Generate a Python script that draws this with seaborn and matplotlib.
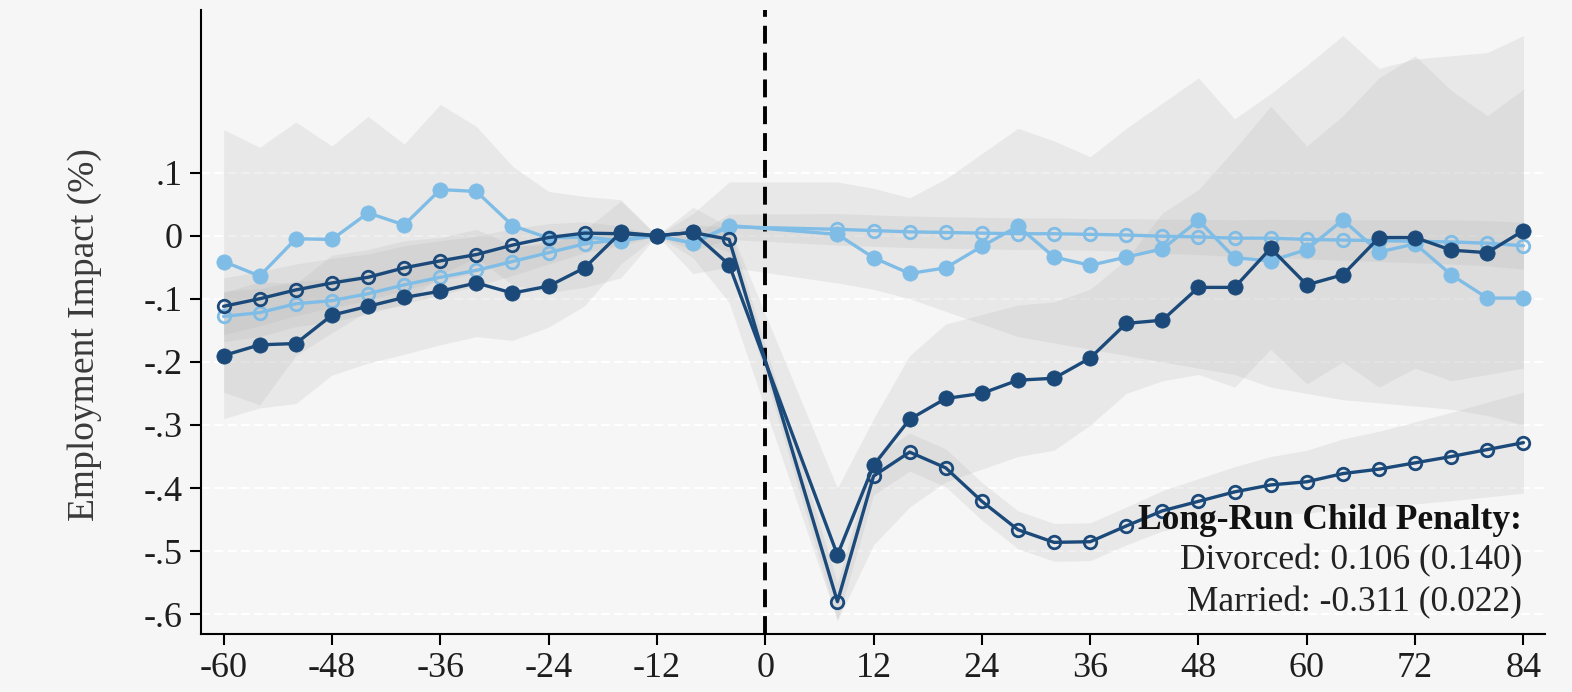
import numpy as np
import pandas as pd
import matplotlib
matplotlib.use("Agg")
import matplotlib.pyplot as plt
import seaborn as sns

# Event time (months relative to birth); 0 and 4 are not estimated
event_time = [-60, -56, -52, -48, -44, -40, -36, -32, -28, -24, -20, -16, -12, -8, -4,
              8, 12, 16, 20, 24, 28, 32, 36, 40, 44, 48, 52, 56, 60, 64, 68, 72, 76, 80, 84]

# Point estimates
women_divorced = [-0.190, -0.173, -0.171, -0.126, -0.112, -0.098, -0.088, -0.075, -0.091, -0.080,
                  -0.051, 0.005, 0.0, 0.005, -0.046,
                  -0.506, -0.364, -0.291, -0.258, -0.250, -0.229, -0.226, -0.194, -0.139, -0.134,
                  -0.082, -0.082, -0.020, -0.078, -0.062, -0.003, -0.003, -0.023, -0.027, 0.008]
women_married = [-0.112, -0.100, -0.086, -0.075, -0.066, -0.051, -0.040, -0.030, -0.015, -0.003,
                 0.004, 0.003, 0.0, 0.005, -0.006,
                 -0.580, -0.381, -0.343, -0.368, -0.421, -0.466, -0.486, -0.485, -0.460, -0.436,
                 -0.421, -0.406, -0.395, -0.390, -0.377, -0.370, -0.360, -0.350, -0.339, -0.328]
men_divorced = [-0.041, -0.064, -0.005, -0.006, 0.036, 0.017, 0.073, 0.070, 0.016, -0.004,
                -0.002, -0.008, 0.0, -0.012, 0.016,
                0.002, -0.035, -0.060, -0.051, -0.017, 0.015, -0.034, -0.047, -0.034, -0.021,
                0.024, -0.035, -0.040, -0.022, 0.025, -0.026, -0.013, -0.062, -0.099, -0.099]
men_married = [-0.128, -0.122, -0.108, -0.103, -0.092, -0.078, -0.066, -0.055, -0.041, -0.027,
               -0.013, -0.006, 0.0, -0.012, 0.014,
               0.010, 0.008, 0.006, 0.005, 0.004, 0.003, 0.003, 0.002, 0.001, -0.001,
               -0.002, -0.004, -0.004, -0.006, -0.007, -0.008, -0.009, -0.010, -0.012, -0.016]

# 95% confidence bounds, divorced
women_divorced_lo = [-0.290, -0.273, -0.266, -0.221, -0.202, -0.188, -0.173, -0.160, -0.166, -0.145,
                     -0.111, -0.045, 0.0, -0.035, -0.106,
                     -0.610, -0.490, -0.430, -0.390, -0.370, -0.350, -0.340, -0.300, -0.250, -0.230,
                     -0.220, -0.240, -0.180, -0.235, -0.200, -0.240, -0.210, -0.230, -0.220, -0.210]
women_divorced_hi = [-0.090, -0.073, -0.076, -0.031, -0.022, -0.008, -0.003, 0.010, -0.016, -0.015,
                     0.009, 0.055, 0.0, 0.045, 0.014,
                     -0.400, -0.290, -0.190, -0.140, -0.125, -0.110, -0.105, -0.085, -0.038, 0.036,
                     0.073, 0.137, 0.205, 0.142, 0.190, 0.250, 0.285, 0.230, 0.190, 0.232]
men_divorced_lo = [-0.248, -0.268, -0.190, -0.154, -0.119, -0.111, -0.062, -0.035, -0.078, -0.090,
                   -0.082, -0.067, 0.0, -0.060, -0.050,
                   -0.075, -0.085, -0.100, -0.120, -0.140, -0.160, -0.170, -0.180, -0.190, -0.200,
                   -0.210, -0.220, -0.240, -0.250, -0.260, -0.265, -0.270, -0.275, -0.285, -0.300]
men_divorced_hi = [0.168, 0.140, 0.180, 0.142, 0.189, 0.145, 0.208, 0.173, 0.110, 0.070,
                   0.062, 0.057, 0.0, 0.035, 0.085,
                   0.085, 0.075, 0.060, 0.090, 0.130, 0.170, 0.150, 0.125, 0.170, 0.210,
                   0.250, 0.185, 0.225, 0.270, 0.317, 0.265, 0.280, 0.285, 0.290, 0.317]

# 95% confidence half-widths, married
women_married_hw = [0.045, 0.043, 0.041, 0.039, 0.037, 0.035, 0.032, 0.029, 0.026, 0.022,
                    0.018, 0.012, 0.0, 0.012, 0.020,
                    0.030, 0.030, 0.030, 0.030, 0.030, 0.030, 0.030, 0.030, 0.030, 0.032,
                    0.036, 0.040, 0.045, 0.050, 0.055, 0.060, 0.065, 0.070, 0.075, 0.080]
men_married_hw = [0.040, 0.038, 0.036, 0.034, 0.032, 0.030, 0.028, 0.025, 0.022, 0.018,
                  0.014, 0.010, 0.0, 0.012, 0.020,
                  0.025, 0.025, 0.025, 0.025, 0.025, 0.025, 0.025, 0.025, 0.026, 0.027,
                  0.028, 0.029, 0.030, 0.031, 0.032, 0.033, 0.034, 0.035, 0.036, 0.037]

x_ticks = [-60, -48, -36, -24, -12, 0, 12, 24, 36, 48, 60, 72, 84]
y_ticks = [0.1, 0.0, -0.1, -0.2, -0.3, -0.4, -0.5, -0.6]
y_tick_labels = [".1", "0", "-.1", "-.2", "-.3", "-.4", "-.5", "-.6"]

penalty_title = "Long-Run Child Penalty:"
penalty_lines = ["Divorced: 0.106 (0.140)", "Married: -0.311 (0.022)"]

DARK = "#1b4a7a"
LIGHT = "#80bde6"
BG = "#f6f6f6"
BAND = "#b8b8b8"

sns.set_theme(style="white")
plt.rcParams["font.family"] = ["Liberation Serif", "DejaVu Serif"]

fig = plt.figure(figsize=(15.72, 6.92), dpi=100, facecolor=BG)
ax = fig.add_axes([0.1279, 0.084, 0.855, 0.902])
ax.set_facecolor(BG)

x = np.array(event_time, dtype=float)

# horizontal reference grid
for yv in y_ticks:
    ax.axhline(yv, color="white", lw=1.6, ls=(0, (4, 2)), zorder=0.5)

# confidence regions
band_kw = dict(color=BAND, alpha=0.22, lw=0, zorder=1)
ax.fill_between(x, men_divorced_lo, men_divorced_hi, **band_kw)
ax.fill_between(x, women_divorced_lo, women_divorced_hi, **band_kw)
wm = np.array(women_married)
wm_hw = np.array(women_married_hw)
ax.fill_between(x, wm - wm_hw, wm + wm_hw, **band_kw)
mm = np.array(men_married)
mm_hw = np.array(men_married_hw)
ax.fill_between(x, mm - mm_hw, mm + mm_hw, **band_kw)

# event-time zero marker
ax.axvline(0, color="black", lw=2.8, ls=(0, (4.6, 2.3)), zorder=2)

line_kw = dict(linewidth=2.4, marker="o", legend=False, ax=ax)
sns.lineplot(x=event_time, y=men_married, color=LIGHT, markersize=9,
             markerfacecolor="none", markeredgecolor=LIGHT, markeredgewidth=2.0,
             zorder=3, **line_kw)
sns.lineplot(x=event_time, y=men_divorced, color=LIGHT, markersize=11,
             markerfacecolor=LIGHT, markeredgecolor=LIGHT, markeredgewidth=0.5,
             zorder=3.1, **line_kw)
sns.lineplot(x=event_time, y=women_married, color=DARK, markersize=9,
             markerfacecolor="none", markeredgecolor=DARK, markeredgewidth=2.0,
             zorder=3.2, **line_kw)
sns.lineplot(x=event_time, y=women_divorced, color=DARK, markersize=11,
             markerfacecolor=DARK, markeredgecolor=DARK, markeredgewidth=0.5,
             zorder=3.3, **line_kw)

ax.set_xlim(-62.5, 86.4)
ax.set_ylim(-0.631, 0.358)
ax.set_xticks(x_ticks)
ax.set_xticklabels([str(t) for t in x_ticks])
ax.set_yticks(y_ticks)
ax.set_yticklabels(y_tick_labels)
ax.tick_params(axis="both", which="major", direction="out", length=8, width=1.5,
               color="black", labelsize=26, labelcolor="#1e1e1e", pad=5,
               left=True, bottom=True)
ax.set_xlabel("")
ax.set_ylabel("Employment Impact (%)", fontsize=27, color="#3a3a3a")
ax.yaxis.set_label_coords(-0.0735, 0.48)

for side in ["top", "right"]:
    ax.spines[side].set_visible(False)
for side in ["left", "bottom"]:
    ax.spines[side].set_color("black")
    ax.spines[side].set_linewidth(1.5)
ax.grid(False)

ax.text(0.983, 0.181, penalty_title, transform=ax.transAxes, ha="right", va="center",
        fontsize=25.5, fontweight="bold", color="#111111", zorder=5)
ax.text(0.983, 0.117, penalty_lines[0], transform=ax.transAxes, ha="right", va="center",
        fontsize=25.5, color="#222222", zorder=5)
ax.text(0.983, 0.050, penalty_lines[1], transform=ax.transAxes, ha="right", va="center",
        fontsize=25.5, color="#222222", zorder=5)

fig.savefig("out.png", dpi=100, facecolor=BG)
